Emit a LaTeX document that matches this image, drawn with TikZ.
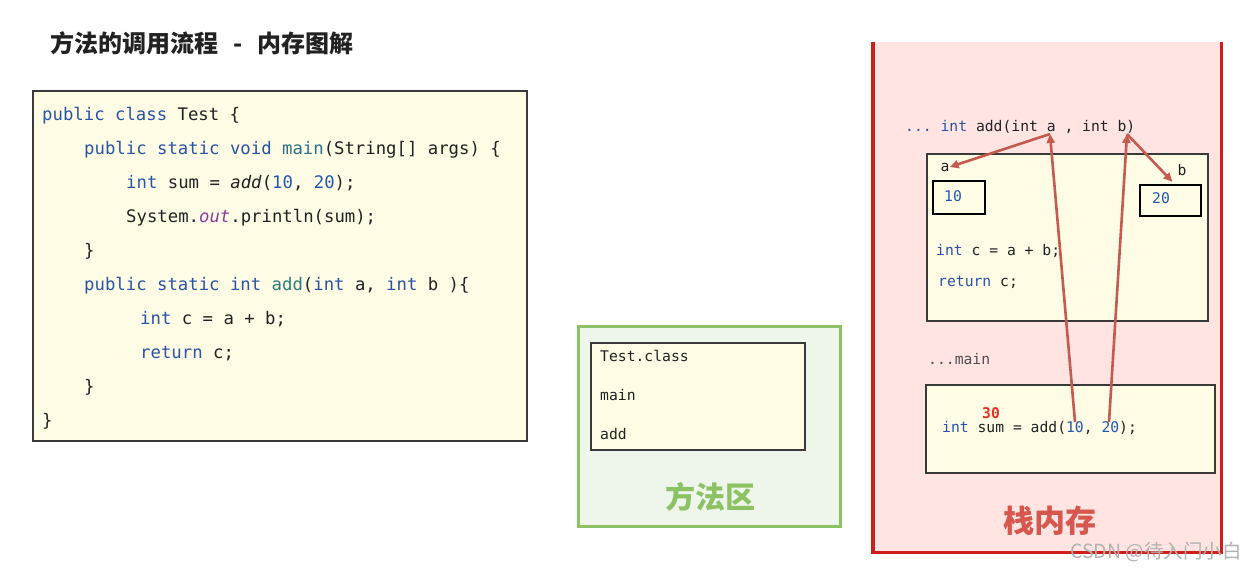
\documentclass[tikz,border=0pt]{standalone}
\usepackage{fontspec}
\setmonofont{DejaVu Sans Mono}
\newfontfamily\cjk{Noto Sans CJK SC}
\usetikzlibrary{arrows.meta,positioning}
\definecolor{ink}{HTML}{222222}
\definecolor{kwblue}{HTML}{2A52A6}
\definecolor{methteal}{HTML}{2B6F8C}
\definecolor{addgreen}{HTML}{2E7C78}
\definecolor{numblue}{HTML}{2457B3}
\definecolor{outpurple}{HTML}{8B3A9C}
\definecolor{codebg}{HTML}{FEFCE4}
\definecolor{frameline}{HTML}{3A3A3A}
\definecolor{areagreen}{HTML}{8CC264}
\definecolor{areabg}{HTML}{EEF5EA}
\definecolor{stackred}{HTML}{D01F1A}
\definecolor{stackbg}{HTML}{FFE4E2}
\definecolor{labelred}{HTML}{D6574E}
\definecolor{arrowred}{HTML}{C45A50}
\definecolor{sumred}{HTML}{E8302A}
\newcommand\kw[1]{\textcolor{kwblue}{#1}}
\newcommand\nb[1]{\textcolor{numblue}{#1}}
\tikzset{code/.style={anchor=base west,inner sep=0pt,text=ink,font=\ttfamily\fontsize{17.3}{17.3}\selectfont},
 small/.style={code,font=\ttfamily\fontsize{14.7}{14.7}\selectfont},
 frame/.style={draw=frameline,fill=codebg,line width=1.6pt,inner sep=0pt},
 valbox/.style={draw=black,line width=2pt,inner sep=0pt},
 arr/.style={-{Triangle[length=9pt,width=8pt]},line width=2.6pt,draw=arrowred}}

\begin{document}
\begin{tikzpicture}[x=1pt,y=-1pt]
\useasboundingbox[fill=white] (0,0) rectangle (1256,573);
\node[anchor=west,inner sep=0pt,font=\cjk\bfseries\fontsize{24}{24}\selectfont,text=ink] (title) at (50,43) {方法的调用流程\hspace{15pt}-\hspace{15pt}内存图解};

% source code
\node[frame,minimum width=494,minimum height=350,anchor=north west] (src) at (32,90) {};
\foreach \i/\x/\txt in {0/42/{\kw{public} \kw{class} Test \{},
 1/84/{\kw{public} \kw{static} \kw{void} \textcolor{methteal}{main}(String[] args) \{},
 2/126/{\kw{int} sum = \textit{add}(\nb{10}, \nb{20});},
 3/126/{System.\textcolor{outpurple}{\textit{out}}.println(sum);},
 4/84/{\}},
 5/84/{\kw{public} \kw{static} \kw{int} \textcolor{addgreen}{add}(\kw{int} a, \kw{int} b )\{},
 6/140/{\kw{int} c = a + b;},
 7/140/{\kw{return} c;},
 8/84/{\}},
 9/42/{\}}}
 \node[code] (line\i) at (\x,120+34.1*\i) {\txt};

% method area
\node[draw=areagreen,fill=areabg,line width=3pt,minimum width=262,minimum height=200,anchor=north west] (area) at (577,325) {};
\node[frame,minimum width=214,minimum height=107,anchor=north west] (classbox) at (590,342) {};
\node[small] (cls) at (600,361) {Test.class};
\node[small] (clsmain) at (600,400) {main};
\node[small] (clsadd) at (600,439) {add};
\node[font=\cjk\bfseries\fontsize{30}{30}\selectfont,text=areagreen,inner sep=0pt] (arealbl) at (710,497) {方法区};

% stack
\node[fill=stackbg,minimum width=348,minimum height=510,inner sep=0pt,anchor=north west] (stack) at (873,42) {};
\draw[stackred,line width=3.5pt] (stack.north west) -- (stack.south west) -- (stack.south east) -- (stack.north east);
\node[font=\cjk\bfseries\fontsize{31}{31}\selectfont,text=labelred,inner sep=0pt] (stacklbl) at (1050,521) {栈内存};

\node[small] (addhdr) at (905,131) {\kw{... int} add(int a , int b)};
\node[frame,minimum width=281,minimum height=167,anchor=north west] (addframe) at (926,153) {};
\node[small,anchor=center] (lblA) at (945,167) {a};
\node[small,anchor=center] (lblB) at (1182,170) {b};
\node[valbox,minimum width=52,minimum height=33,anchor=north west] (boxA) at (932,180) {};
\node[small,text=numblue,anchor=center] (valA) at (953,196) {10};
\node[valbox,minimum width=61,minimum height=31,anchor=north west] (boxB) at (1139,184) {};
\node[small,text=numblue,anchor=center] (valB) at (1161,198) {20};
\node[small] (addc) at (936,255) {\kw{int} c = a + b;};
\node[small] (addret) at (938,286) {\kw{return} c;};

\node[small,text=ink!80] (mainhdr) at (928,364) {...main};
\node[frame,minimum width=289,minimum height=88,anchor=north west] (mainframe) at (925,384) {};
\node[small] (call) at (942,432) {\kw{int} sum = add(\nb{10}, \nb{20});};
\node[small,anchor=center,text=sumred,font=\ttfamily\bfseries\fontsize{14.7}{14.7}\selectfont] (result) at (991,413) {30};

\coordinate (argA) at (1050,134);
\coordinate (argB) at (1127,134);
\coordinate (callA) at (1075,422);
\coordinate (callB) at (1109,422);
\draw[arr] (argA) -- (lblA.east);
\draw[arr,shorten >=3pt] (argB) -- ([xshift=4pt]boxB.north);
\draw[arr] (callA) -- (argA);
\draw[arr] (callB) -- (argB);

\node[font=\cjk\fontsize{19.5}{19.5}\selectfont,text=black!30,inner sep=0pt,anchor=east] (mark) at (1242,552) {CSDN @待入门小白};
\end{tikzpicture}
\end{document}
